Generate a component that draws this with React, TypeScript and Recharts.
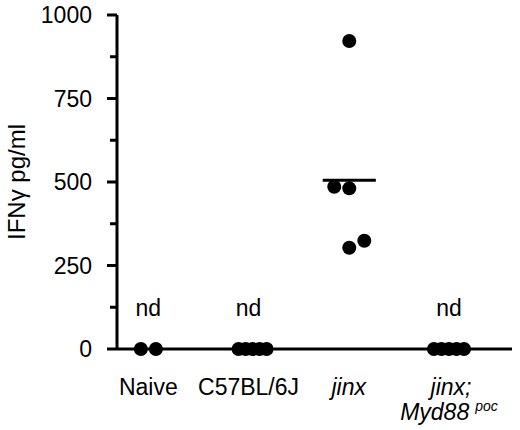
import {
  ScatterChart,
  Scatter,
  XAxis,
  YAxis,
  ReferenceLine,
} from "recharts";

// group names (positions 0..3 on the x axis)
const groups = ["Naive", "C57BL/6J", "jinx", "jinx; Myd88poc"];

// IFNγ values per mouse and their horizontal spread inside the group
const naiveValues = [0, 0];
const naiveOffsets = [-0.075, 0.075];
const c57Values = [0, 0, 0, 0, 0];
const c57Offsets = [-0.1, -0.03, 0.04, 0.11, 0.18];
const jinxValues = [922, 486, 481, 324, 303];
const jinxOffsets = [0.005, -0.145, 0.005, 0.155, 0.005];
const myd88Values = [0, 0, 0, 0, 0];
const myd88Offsets = [-0.15, -0.075, 0, 0.075, 0.15];

const jinxMean = 505;
const notDetected = [0, 1, 3];
const ndLevel = 123;

const yTicks = [0, 125, 250, 375, 500, 625, 750, 875, 1000];
const FONT = "'Liberation Sans', Arial, sans-serif";

const toPoints = (idx: number, values: number[], offsets: number[]) =>
  values.map((v, i) => ({ x: idx + offsets[i], y: v }));

const dot = (props: any) => (
  <circle cx={props.cx} cy={props.cy} r={7} fill="#000" />
);

const ndText = (props: any) => (
  <text
    x={props.cx}
    y={props.cy}
    dy="0.35em"
    textAnchor="middle"
    fontSize={23}
    fontFamily={FONT}
    fill="#000"
  >
    nd
  </text>
);

const YTick = (props: any) => {
  const { x, y, payload } = props;
  const major = payload.value % 250 === 0;
  return (
    <g>
      <line x1={x - (major ? 10 : 7)} y1={y} x2={x} y2={y} stroke="#000" strokeWidth={3} />
      {major && (
        <text
          x={x - 25}
          y={y}
          dy="0.35em"
          textAnchor="end"
          fontSize={23}
          fontFamily={FONT}
          fill="#000"
        >
          {payload.value}
        </text>
      )}
    </g>
  );
};

const XTick = (props: any) => {
  const { x, y, payload } = props;
  const name = groups[payload.value];
  if (name === "jinx; Myd88poc") {
    return (
      <g fontFamily={FONT} fontSize={23} fill="#000" fontStyle="italic">
        <text x={x + 2} y={y + 46} textAnchor="middle">
          jinx;
        </text>
        <text x={x} y={y + 71} textAnchor="middle">
          Myd88
          <tspan dx={6} dy={-9} fontSize={14}>
            poc
          </tspan>
        </text>
      </g>
    );
  }
  return (
    <text
      x={x}
      y={y + 46}
      textAnchor="middle"
      fontSize={23}
      fontFamily={FONT}
      fontStyle={name === "jinx" ? "italic" : "normal"}
      fill="#000"
    >
      {name}
    </text>
  );
};

const YLabel = (props: any) => {
  const cy = props.viewBox.y + props.viewBox.height / 2;
  return (
    <text
      x={25}
      y={cy}
      transform={`rotate(-90, 25, ${cy})`}
      textAnchor="middle"
      fontSize={24}
      fontFamily={FONT}
      fill="#000"
    >
      IFNγ pg/ml
    </text>
  );
};

export default function App() {
  return (
    <div style={{ position: "absolute", left: 0, top: 0, background: "#fff" }}>
      <ScatterChart
        width={520}
        height={430}
        margin={{ top: 15, right: 8, bottom: 0, left: 0 }}
      >
        <XAxis
          type="number"
          dataKey="x"
          height={81}
          domain={[-0.313, 3.629]}
          ticks={[0, 1, 2, 3]}
          tick={<XTick />}
          tickLine={false}
          tickSize={0}
          tickMargin={0}
          axisLine={{ stroke: "#000", strokeWidth: 3 }}
          interval={0}
          allowDataOverflow
        />
        <YAxis
          type="number"
          dataKey="y"
          width={117}
          domain={[0, 1000]}
          ticks={yTicks}
          tick={<YTick />}
          tickLine={false}
          tickSize={0}
          tickMargin={0}
          interval={0}
          axisLine={{ stroke: "#000", strokeWidth: 3 }}
          label={<YLabel />}
        />
        <ReferenceLine
          segment={[
            { x: 1.74, y: jinxMean },
            { x: 2.27, y: jinxMean },
          ]}
          stroke="#000"
          strokeWidth={3}
        />
        <Scatter data={toPoints(0, naiveValues, naiveOffsets)} shape={dot} isAnimationActive={false} />
        <Scatter data={toPoints(1, c57Values, c57Offsets)} shape={dot} isAnimationActive={false} />
        <Scatter data={toPoints(2, jinxValues, jinxOffsets)} shape={dot} isAnimationActive={false} />
        <Scatter data={toPoints(3, myd88Values, myd88Offsets)} shape={dot} isAnimationActive={false} />
        <Scatter
          data={notDetected.map((g) => ({ x: g, y: ndLevel }))}
          shape={ndText}
          isAnimationActive={false}
        />
      </ScatterChart>
    </div>
  );
}
